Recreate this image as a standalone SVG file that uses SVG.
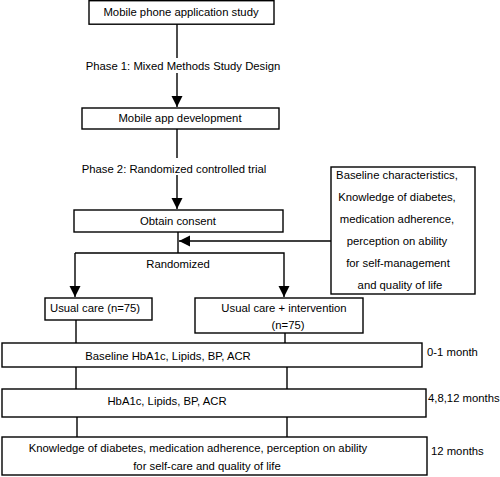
<svg xmlns="http://www.w3.org/2000/svg" width="500" height="477" viewBox="0 0 500 477">
<style>
rect{fill:#fff;stroke:#000;stroke-width:1.4}
line,polyline{stroke:#000;stroke-width:1.4;fill:none}
text{font-family:"Liberation Sans",Arial,sans-serif;font-size:11.3px;fill:#000}
.m{text-anchor:middle}
</style>
<defs>
<marker id="ah" markerUnits="userSpaceOnUse" markerWidth="11" markerHeight="12" refX="11" refY="5.5" orient="auto">
<path d="M0,0 L11,5.5 L0,11 Z" fill="#000"/>
</marker>
</defs>
<g id="connectors">
<line x1="177" y1="24" x2="177" y2="58"/>
<line x1="177" y1="73" x2="177" y2="107" marker-end="url(#ah)"/>
<line x1="177" y1="129" x2="177" y2="158"/>
<line x1="177" y1="175" x2="177" y2="209" marker-end="url(#ah)"/>
<line x1="178" y1="232" x2="178" y2="253"/>
<line x1="331" y1="241" x2="179" y2="241" marker-end="url(#ah)"/>
<polyline points="75,253 284,253 284,297" marker-end="url(#ah)"/>
<line x1="75" y1="253" x2="75" y2="297" marker-end="url(#ah)"/>
<line x1="76" y1="320" x2="76" y2="343"/>
<line x1="285" y1="333" x2="285" y2="343"/>
<line x1="76" y1="367" x2="76" y2="389"/>
<line x1="287" y1="367" x2="287" y2="389"/>
<line x1="77" y1="417" x2="77" y2="437"/>
<line x1="287" y1="417" x2="287" y2="437"/>
<text class="m" x="183" y="70">Phase 1: Mixed Methods Study Design</text>
<text class="m" x="174" y="173">Phase 2: Randomized controlled trial</text>
<text class="m" x="178" y="268">Randomized</text>
</g>
<g id="n1"><rect x="89" y="0.7" width="185" height="23.5"/><text class="m" x="181" y="16">Mobile phone application study</text></g>
<g id="n2"><rect x="82" y="108" width="197" height="21"/><text class="m" x="180" y="122">Mobile app development</text></g>
<g id="n3"><rect x="74" y="210" width="209" height="22"/><text class="m" x="178" y="225">Obtain consent</text></g>
<g id="n4"><rect x="331" y="167" width="144" height="127"/>
<text class="m" x="397" y="179">Baseline characteristics,</text>
<text class="m" x="397" y="201">Knowledge of diabetes,</text>
<text class="m" x="397" y="223">medication adherence,</text>
<text class="m" x="397" y="245">perception on ability</text>
<text class="m" x="398" y="267">for self-management</text>
<text class="m" x="400" y="289">and quality of life</text>
</g>
<g id="n5"><rect x="45" y="298" width="107" height="22"/><text x="50" y="312">Usual care (n=75)</text></g>
<g id="n6"><rect x="195" y="298" width="168" height="35"/><text class="m" x="284" y="312">Usual care + intervention</text><text class="m" x="288" y="329">(n=75)</text></g>
<g id="n7"><rect x="2" y="343" width="420" height="24"/><text class="m" x="168" y="360">Baseline HbA1c, Lipids, BP, ACR</text><text x="427" y="356">0-1 month</text></g>
<g id="n8"><rect x="2" y="389" width="424" height="28"/><text class="m" x="167" y="405">HbA1c, Lipids, BP, ACR</text><text x="428" y="402">4,8,12 months</text></g>
<g id="n9"><rect x="2" y="437" width="425" height="38"/><text class="m" x="198" y="452">Knowledge of diabetes, medication adherence, perception on ability</text><text class="m" x="207" y="470">for self-care and quality of life</text><text x="431" y="455">12 months</text></g>
</svg>
